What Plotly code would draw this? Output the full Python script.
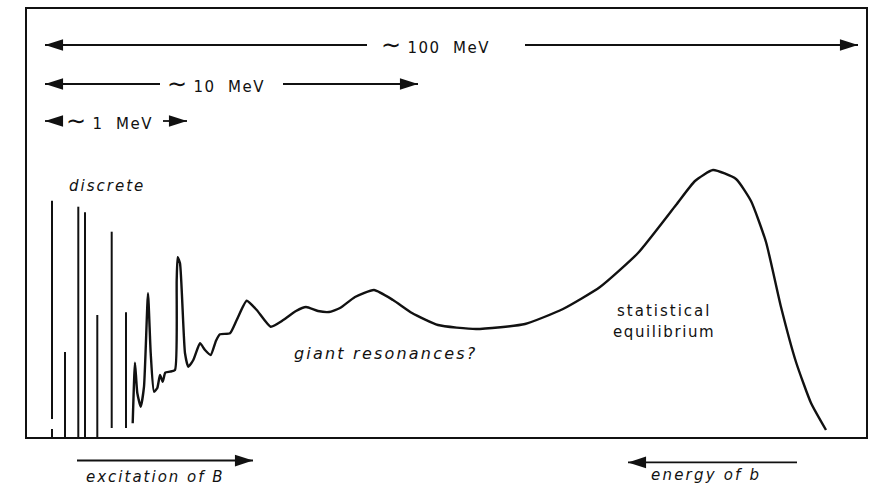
import plotly.graph_objects as go

# ---------------- data (arbitrary units) ----------------
# discrete levels: position, lower end, upper end
level_x = [2.5, 2.5, 3.8, 5.13, 5.8, 7.03, 8.47, 9.9]
level_bottom = [1.8, 0.0, 0.0, 0.0, 0.0, 0.0, 0.9, 0.9]
level_top = [23.63, 0.8, 8.5, 23.03, 22.47, 12.2, 20.53, 12.47]

# continuous cross section curve
curve_x = [10.57, 10.8, 11.03, 11.37, 11.7, 12.1, 12.37, 12.7, 13.03, 13.3,
           13.57, 13.83, 14.3, 14.8, 14.97, 15.07, 15.3, 15.8, 16.13, 16.63,
           17.3, 17.8, 18.37, 18.9, 19.3, 20.3, 20.97, 21.97, 22.97, 24.37,
           25.63, 26.9, 27.9, 29.1, 30.2, 31.3, 32.8, 34.7, 36.6, 38.5,
           41.1, 44.9, 49.8, 53.6, 57.3, 61.1, 64.9, 66.8, 68.6, 70.9,
           72.4, 73.9, 75.4, 76.9, 78.4, 79.9]
curve_y = [1.37, 7.43, 4.4, 3.03, 5.03, 14.37, 8.4, 4.53, 4.9, 6.2,
           5.53, 6.43, 6.53, 6.7, 15.7, 17.97, 17.37, 8.37, 7.03, 7.7,
           9.37, 8.7, 8.2, 9.63, 10.27, 10.37, 11.7, 13.63, 12.7, 11.03,
           11.7, 12.6, 13.0, 12.6, 12.5, 12.9, 14.0, 14.7, 13.7, 12.4,
           11.2, 10.8, 11.3, 12.8, 15.0, 18.4, 23.2, 25.6, 26.7, 25.8,
           23.6, 19.5, 13.0, 7.5, 3.4, 0.7]

# scale arrows (inside the frame)
arrow_y = [39.2, 39.2, 35.3, 35.3, 31.6, 31.6]
arrow_tail = [34.0, 49.8, 13.3, 25.6, 3.6, 13.6]
arrow_tip = [1.8, 83.1, 1.8, 39.1, 1.8, 16.0]
scale_labels = ["100", "10", "1"]
scale_label_x = [40.8, 18.9, 8.2]
scale_label_y = [39.2, 35.3, 31.6]

# axis-direction arrows (below the frame)
bottom_arrow_y = [-2.3, -2.5]
bottom_arrow_tail = [5.0, 77.0]
bottom_arrow_tip = [22.6, 60.1]

X_RANGE = [0, 83.9]
Y_RANGE = [0, 42.8]
Y2_RANGE = [-4.9, 0]

FONT = "DejaVu Sans"
INK = "#111111"

fig = go.Figure()

# discrete lines
lx, ly = [], []
for x, b, t in zip(level_x, level_bottom, level_top):
    lx += [x, x, None]
    ly += [b, t, None]
fig.add_trace(go.Scatter(x=lx, y=ly, mode="lines",
                         line=dict(color=INK, width=2), hoverinfo="skip"))

# continuum
fig.add_trace(go.Scatter(x=curve_x, y=curve_y, mode="lines",
                         line=dict(color=INK, width=2.4, shape="spline", smoothing=0.5),
                         hoverinfo="skip"))


def add_arrows(tails, tips, ys, yaxis):
    ax_, ay_ = [], []
    for a, b, y in zip(tails, tips, ys):
        ax_ += [a, b, None]
        ay_ += [y, y, None]
    fig.add_trace(go.Scatter(x=ax_, y=ay_, mode="lines", yaxis=yaxis,
                             line=dict(color=INK, width=1.8), hoverinfo="skip"))
    fig.add_trace(go.Scatter(
        x=tips, y=ys, mode="markers", yaxis=yaxis, hoverinfo="skip",
        marker=dict(symbol="arrow", size=19, color=INK, line=dict(width=0),
                    angle=[90 if b > a else -90 for a, b in zip(tails, tips)])))


add_arrows(arrow_tail, arrow_tip, arrow_y, "y")
add_arrows(bottom_arrow_tail, bottom_arrow_tip, bottom_arrow_y, "y2")

annotations = []
for lab, x, y in zip(scale_labels, scale_label_x, scale_label_y):
    annotations.append(dict(
        x=x, y=y, xref="x", yref="y", showarrow=False,
        text='<span style="font-size:24px">\u223c</span>'
             '<span style="letter-spacing:1.5px">\u00a0' + lab + '\u00a0\u00a0MeV</span>',
        font=dict(family=FONT, size=15, color=INK)))


def label(text, x, y, yref="y", size=14, italic=True, spacing=2, yanchor="middle"):
    annotations.append(dict(
        x=x, y=y, xref="x", yref=yref, showarrow=False, yanchor=yanchor,
        text='<span style="letter-spacing:%spx">%s</span>' % (spacing, text),
        font=dict(family=FONT, size=size, color=INK,
                  style="italic" if italic else "normal")))


label("discrete", 7.95, 25.1, size=15, spacing=2)
label("giant resonances?", 35.85, 8.4, size=16, spacing=2.2)
label("statistical", 63.7, 12.6, size=15, italic=False, spacing=2)
label("equilibrium", 63.7, 10.5, size=15, italic=False, spacing=1.6)
label("excitation of B", 12.8, -4.0, yref="y2", size=15, spacing=2)
label("energy of b", 67.9, -4.85, yref="y2", size=15, spacing=2.2, yanchor="bottom")
label("\u03c3", -1.7, 17.2, size=19, italic=False, spacing=0)

fig.update_layout(
    width=870, height=486,
    margin=dict(l=27, r=4, t=9, b=0),
    paper_bgcolor="white", plot_bgcolor="white",
    showlegend=False,
    annotations=annotations,
    xaxis=dict(range=X_RANGE, showgrid=False, zeroline=False, showticklabels=False,
               ticks="", showline=True, mirror=True, linecolor=INK, linewidth=2,
               anchor="y", fixedrange=True),
    yaxis=dict(range=Y_RANGE, domain=[49 / 477, 1], showgrid=False, zeroline=False,
               showticklabels=False, ticks="", showline=True, mirror=True,
               linecolor=INK, linewidth=2, fixedrange=True),
    yaxis2=dict(range=Y2_RANGE, domain=[0, 49 / 477 - 0.002], showgrid=False,
                zeroline=False, showticklabels=False, ticks="", showline=False,
                fixedrange=True),
)

fig.write_html("out.html", config={"displayModeBar": False},
               post_script="document.body.style.margin='0px';"
                           "document.documentElement.style.overflow='hidden';")
